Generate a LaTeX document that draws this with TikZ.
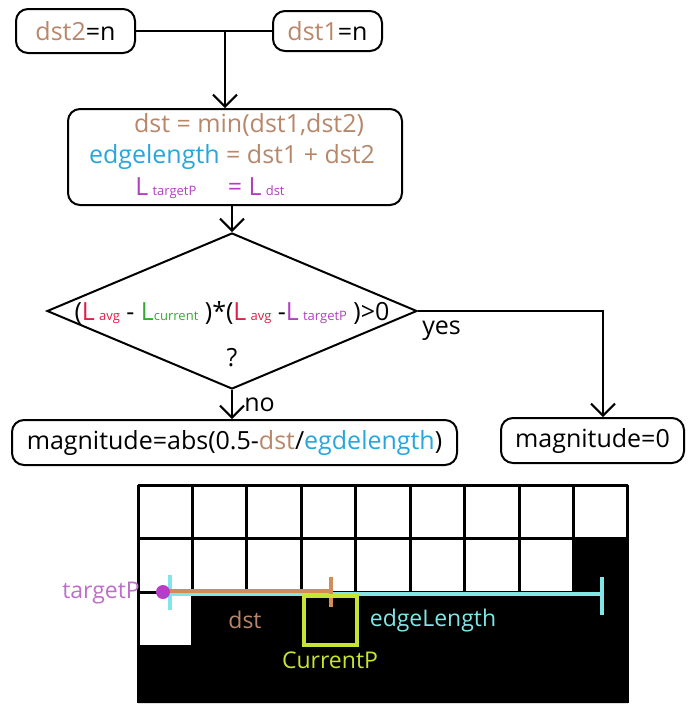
\documentclass[tikz,border=0pt]{standalone}
\usepackage{fontspec}
\setmainfont{Open Sans}
\usetikzlibrary{arrows.meta}
\usetikzlibrary{shapes.geometric}
\definecolor{dstbrown}{RGB}{184,135,106}
\definecolor{edgeblue}{RGB}{40,166,220}
\definecolor{lpurple}{RGB}{176,64,192}
\definecolor{lred}{RGB}{224,30,70}
\definecolor{lgreen}{RGB}{50,170,50}
\definecolor{dstline}{RGB}{210,140,90}
\definecolor{edgeline}{RGB}{128,230,230}
\definecolor{dotpurple}{RGB}{185,60,200}
\definecolor{tplabel}{RGB}{190,110,200}
\definecolor{lime}{RGB}{200,228,50}
\newcommand{\sm}[1]{{\fontsize{13}{13}\selectfont #1}}
\tikzstyle{term} = [draw, rounded corners=12pt, line width=2pt, inner sep=0pt]
\tikzstyle{test} = [draw, diamond, line width=2pt, inner sep=0pt]
\tikzstyle{arrow} = [line width=2pt, -{Straight Barb[length=12pt,width=24pt]}]
\tikzstyle{gridline} = [line width=3pt]
\tikzstyle{tag} = [font=\fontsize{23}{23}\selectfont]

\begin{document}
\begin{tikzpicture}[x=1pt, y=-1pt, font=\fontsize{25}{28}\selectfont]
	\useasboundingbox (0,0) rectangle (692,716);

	\node[term, minimum width=119pt, minimum height=44pt](dst2) at (75.5,31){\textcolor{dstbrown}{dst2}=n};
	\node[term, minimum width=109pt, minimum height=40pt](dst1) at (327.5,31){\textcolor{dstbrown}{dst1}=n};
	\coordinate(join) at (225,31);
	\node[term, minimum width=334pt, minimum height=96pt](calc) at (235,157){};
	\node(calcA) at (249,125){\textcolor{dstbrown}{dst = min(dst1,dst2)}};
	\node(calcB) at (232,157){\textcolor{edgeblue}{edgelength} \textcolor{dstbrown}{= dst1 + dst2}};
	\node(calcC) at (210,188){\color{lpurple}L\,\sm{targetP}\quad\ = L\,\sm{dst}};
	\node[test, minimum width=370pt, minimum height=156pt](cond) at (232,311){};
	\node(condtxt) at (232,313){(\textcolor{lred}{L}\,\sm{\textcolor{lred}{avg}} - \textcolor{lgreen}{L\sm{current}}\ )*(\textcolor{lred}{L}\,\sm{\textcolor{lred}{avg}} -\textcolor{lpurple}{L}\,\sm{\textcolor{lpurple}{targetP}}\ )>0};
	\node(ask) at (232,358){?};
	\node[term, minimum width=445pt, minimum height=45pt](res1) at (234.5,442.5){magnitude=abs(0.5-\textcolor{dstbrown}{dst}/\textcolor{edgeblue}{egdelength})};
	\node[term, minimum width=183pt, minimum height=45pt](res2) at (592.5,440.5){magnitude=0};

	\draw[line width=2pt](dst2) -- (dst1);
	\draw[arrow](join) -- (join |- calc.north);
	\draw[arrow](cond.north |- calc.south) -- (cond.north);
	\draw[arrow](cond.south) -- (cond.south |- res1.north) node[midway, right, xshift=8pt]{no};
	\draw[arrow](cond.east) -| ([xshift=10.5pt]res2.north) node[pos=0, below right, yshift=-6pt]{yes};

	\fill (138,647) -- (192.4,647) -- (192.4,592) -- (573.6,592) -- (573.6,539) -- (628,539) -- (628,703) -- (138,703) -- cycle;
	\foreach \i in {0,...,9}
		\draw[gridline] ({138+\i*54.44},485) -- ({138+\i*54.44},703);
	\foreach \j in {0,...,3}
		\draw[gridline] (138,{485+\j*53.7}) -- (628,{485+\j*53.7});

	\draw[edgeline, line width=4.5pt] (170,594) -- (602,594);
	\draw[edgeline, line width=3.5pt] (170,575) -- (170,610);
	\draw[edgeline, line width=3.5pt] (602,577) -- (602,615);
	\draw[dstline, line width=4.5pt] (163,591) -- (331,591);
	\draw[dstline, line width=3.5pt] (331,577) -- (331,607);
	\draw[lime, line width=3.5pt] (304,596) rectangle (357,645);

	\node[circle, fill=dotpurple, inner sep=0pt, minimum size=14pt](tpdot) at (163,592){};
	\node[tag, text=tplabel, anchor=east, inner sep=1pt](tp) at (141,593){targetP};
	\draw[line width=2pt](tp) -- (tpdot);
	\node[tag, text=dstbrown](dstlbl) at (245,620){dst};
	\node[tag, text=edgeline](edgelbl) at (433,621){edgeLength};
	\node[tag, text=lime](curlbl) at (330,660){CurrentP};
\end{tikzpicture}
\end{document}
